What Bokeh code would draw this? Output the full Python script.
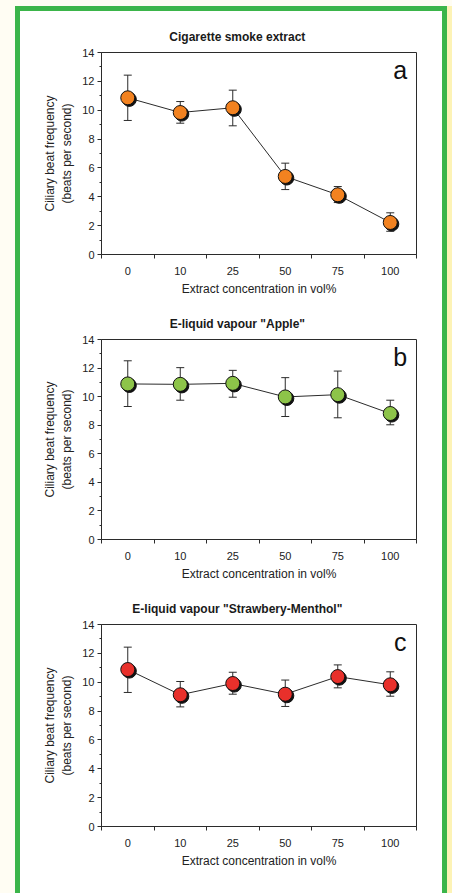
from bokeh.plotting import figure
from bokeh.models import ColumnDataSource, FixedTicker, Whisker, TeeHead, Label, Spacer
from bokeh.layouts import column, row
from bokeh.transform import dodge
from bokeh.embed import file_html
from bokeh.resources import INLINE

concentrations = ["0", "10", "25", "50", "75", "100"]
titles = ["Cigarette smoke extract", 'E-liquid vapour "Apple"', 'E-liquid vapour "Strawbery-Menthol"']
letters = ["a", "b", "c"]
y_ticks = [0, 2, 4, 6, 8, 10, 12, 14]

cse_mean = [10.86, 9.84, 10.17, 5.41, 4.14, 2.22]
cse_upper = [12.43, 10.60, 11.39, 6.33, 4.71, 2.89]
cse_lower = [9.29, 9.10, 8.92, 4.50, 3.60, 1.61]

apple_mean = [10.89, 10.86, 10.93, 9.98, 10.14, 8.82]
apple_upper = [12.51, 12.03, 11.84, 11.33, 11.79, 9.75]
apple_lower = [9.31, 9.75, 9.96, 8.61, 8.52, 8.03]

straw_mean = [10.88, 9.13, 9.91, 9.17, 10.39, 9.82]
straw_upper = [12.43, 10.05, 10.69, 10.15, 11.20, 10.72]
straw_lower = [9.29, 8.29, 9.17, 8.32, 9.61, 9.03]

colors = ["#f28220", "#8dc449", "#e8302b"]

FONT = "Liberation Sans"
DARK = "#2b2b2b"
GREEN = "#3bb54a"
CREAM = "#fffdf3"
YELLOW = "#fdf3b6"
PANEL_W = 422
NBSP = "\u00a0"


def make_panel(title, letter, mean, upper, lower, color, height, top):
    n = len(concentrations)
    # trailing no-break spaces shift the centred title a little to the left
    p = figure(width=PANEL_W, height=height, x_range=(-0.5, n - 0.5), y_range=(0, 14),
               output_backend="svg", toolbar_location=None, title=title + NBSP * 13,
               min_border_left=81, min_border_right=PANEL_W - 81 - 315, min_border_top=top,
               min_border_bottom=height - top - 202)
    p.background_fill_color = "white"
    p.border_fill_color = "white"
    p.outline_line_color = DARK
    p.outline_line_width = 1
    p.outline_line_alpha = 1
    p.xgrid.visible = False
    p.ygrid.visible = False

    p.title.text_font = FONT
    p.title.text_font_size = "12px"
    p.title.text_font_style = "bold"
    p.title.text_color = "#1a1a1a"
    p.title.align = "center"
    p.title.standoff = 17

    xa = p.xaxis[0]
    xa.ticker = FixedTicker(ticks=list(range(n)), minor_ticks=[i - 0.5 for i in range(n + 1)])
    xa.major_label_overrides = {i: c for i, c in enumerate(concentrations)}
    xa.major_tick_out = 4
    xa.major_tick_in = 0
    xa.minor_tick_out = 4
    xa.minor_tick_in = 0
    xa.minor_tick_line_color = DARK
    xa.axis_label = "Extract concentration in vol%"

    ya = p.yaxis[0]
    ya.ticker = FixedTicker(ticks=y_ticks, minor_ticks=[t + 1 for t in y_ticks[:-1]])
    ya.major_tick_out = 4
    ya.major_tick_in = 0
    ya.minor_tick_out = 2
    ya.minor_tick_in = 0
    ya.minor_tick_line_color = DARK
    ya.axis_label = "Ciliary beat frequency\n(beats per second)"

    for ax in (xa, ya):
        ax.axis_line_color = DARK
        ax.major_label_text_font = FONT
        ax.major_label_text_font_size = "11px"
        ax.major_label_text_color = "#222222"
        ax.axis_label_text_font = FONT
        ax.axis_label_text_font_size = "12px"
        ax.axis_label_text_font_style = "normal"
        ax.axis_label_text_color = "#222222"
    xa.major_tick_line_color = None
    ya.major_tick_line_color = DARK
    xa.major_label_standoff = 8
    xa.axis_label_standoff = 4
    ya.major_label_standoff = 3
    ya.axis_label_standoff = 5

    src = ColumnDataSource(dict(x=list(range(n)), mean=mean, upper=upper, lower=lower))

    w = Whisker(base="x", upper="upper", lower="lower", source=src,
                line_color=DARK, line_width=1, level="underlay",
                upper_head=TeeHead(size=8, line_color=DARK, line_width=1),
                lower_head=TeeHead(size=8, line_color=DARK, line_width=1))
    p.add_layout(w)

    p.line("x", "mean", source=src, line_color=DARK, line_width=1)
    p.scatter(x=dodge("x", 0.03), y=dodge("mean", -0.11), source=src, size=14,
              fill_color="#111111", line_color="#111111")
    p.scatter("x", "mean", source=src, size=14, fill_color=color,
              line_color="#111111", line_width=1)

    p.add_layout(Label(x=n - 0.5 - 0.31, y=12.78, text=letter, text_font=FONT,
                       text_font_size="25px", text_align="center",
                       text_baseline="middle", text_color="#111111"))
    return p


pa = make_panel(titles[0], letters[0], cse_mean, cse_upper, cse_lower, colors[0], 287, 41)
pb = make_panel(titles[1], letters[1], apple_mean, apple_upper, apple_lower, colors[1], 285, 41)
pc = make_panel(titles[2], letters[2], straw_mean, straw_upper, straw_lower, colors[2], 310, 41)

BODY_H = 887
top_strip = Spacer(width=452, height=6, styles={"background-color": CREAM})
left_pad = Spacer(width=15, height=BODY_H, styles={"background-color": CREAM})
left_bar = Spacer(width=5, height=BODY_H, styles={"background-color": GREEN})
top_bar = Spacer(width=PANEL_W, height=5, styles={"background-color": GREEN})
right_bar = Spacer(width=5, height=BODY_H, styles={"background-color": GREEN})
right_pad = Spacer(width=5, height=BODY_H, styles={"background-color": YELLOW})

inner = column(top_bar, pa, pb, pc, spacing=0)
layout = column(top_strip, row(left_pad, left_bar, inner, right_bar, right_pad, spacing=0), spacing=0)

open("out.html", "w").write(file_html(layout, INLINE))
